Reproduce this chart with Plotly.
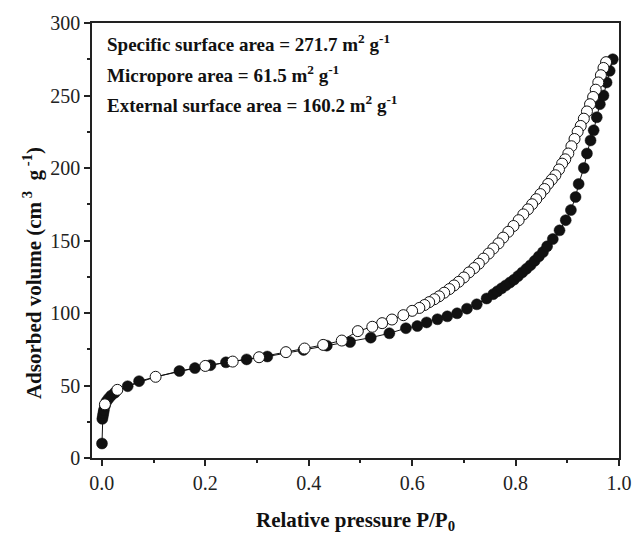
import plotly.graph_objects as go

# Adsorption branch (filled circles)
ads_p = [0.0003, 0.001, 0.002, 0.003, 0.004, 0.006, 0.009, 0.013, 0.018, 0.025,
         0.05, 0.072, 0.15, 0.18, 0.21, 0.24, 0.28, 0.32, 0.39, 0.435, 0.48, 0.52,
         0.556, 0.588, 0.61, 0.628, 0.649, 0.668, 0.687, 0.706, 0.725, 0.744,
         0.757, 0.765, 0.773, 0.781, 0.789, 0.797, 0.805, 0.813, 0.821, 0.829,
         0.837, 0.845, 0.853, 0.861, 0.872, 0.885, 0.897, 0.907, 0.916, 0.922,
         0.932, 0.938, 0.945, 0.951, 0.957, 0.963, 0.970, 0.976, 0.982, 0.988]
ads_v = [10, 27, 29, 31, 33, 36, 39, 41, 43, 45,
         49.5, 53, 60, 62, 64, 66, 68, 70, 74.5, 77.5, 80, 83,
         86, 89.5, 91, 93.5, 95.7, 97.7, 99.8, 103, 106, 110,
         113, 115, 117, 119, 121, 123, 125.5, 128, 130.5, 133,
         136, 139, 142, 146, 151, 157, 164, 171, 180, 189,
         200, 210, 219, 226, 235, 244, 250, 259, 267, 275]

# Desorption branch (open circles)
des_p = [0.975, 0.970, 0.965, 0.960, 0.955, 0.950, 0.944, 0.938, 0.932, 0.926,
         0.920, 0.914, 0.908, 0.902, 0.896, 0.890, 0.884, 0.877, 0.870, 0.863,
         0.856, 0.848, 0.840, 0.832, 0.824, 0.815, 0.806, 0.796, 0.786, 0.776,
         0.767, 0.757, 0.748, 0.738, 0.729, 0.720, 0.710, 0.700, 0.690, 0.681,
         0.672, 0.662, 0.652, 0.643, 0.633, 0.624, 0.614, 0.600, 0.583, 0.561,
         0.542, 0.523, 0.495, 0.464, 0.428, 0.392, 0.356, 0.304, 0.253, 0.200,
         0.104, 0.030, 0.006]
des_v = [273, 269, 264, 259, 254, 249, 244, 239, 234, 229,
         225, 220, 215, 210, 206, 203, 199, 195, 192, 189,
         185.5, 182, 178.5, 175, 171.5, 168, 164, 160, 156, 152,
         148, 144.5, 141, 137.5, 134, 131, 128, 124.5, 121.5, 119,
         116.5, 114, 111.5, 109.5, 107.5, 105.5, 103.5, 101.5, 98.5, 95.5,
         93, 90.5, 87.5, 81, 78, 75.5, 73, 69.5, 66.5, 63.5,
         56, 47, 37]

x_ticks = [0.0, 0.2, 0.4, 0.6, 0.8, 1.0]
y_ticks = [0, 50, 100, 150, 200, 250, 300]

notes = [
    "Specific surface area = 271.7 m<sup>2</sup> g<sup>-1</sup>",
    "Micropore area = 61.5 m<sup>2</sup> g<sup>-1</sup>",
    "External surface area = 160.2 m<sup>2</sup> g<sup>-1</sup>",
]
note_y = [286, 265, 244]

x_title = "<b>Relative pressure P/P<sub>0</sub></b>"
y_title = "<b>Adsorbed volume (cm<sup> 3</sup>  g<sup> -1</sup>)</b>"

FONT = "Liberation Serif, Times New Roman, serif"

fig = go.Figure()
fig.add_trace(go.Scatter(
    x=ads_p, y=ads_v, mode="lines+markers",
    line=dict(color="#111111", width=1),
    marker=dict(symbol="circle", size=11, color="#111111",
                line=dict(color="#111111", width=0.5)),
    showlegend=False, cliponaxis=False))
fig.add_trace(go.Scatter(
    x=des_p, y=des_v, mode="lines+markers",
    line=dict(color="#111111", width=1),
    marker=dict(symbol="circle", size=11, color="white",
                line=dict(color="#111111", width=1)),
    showlegend=False, cliponaxis=False))

for t, yv in zip(notes, note_y):
    fig.add_annotation(
        x=0.006, xref="x", xanchor="left",
        y=yv, yref="y", yanchor="middle",
        text="<b>" + t + "</b>", showarrow=False,
        font=dict(family=FONT, size=19, color="#111111"))

fig.add_annotation(
    x=0.5, xref="paper", xanchor="center",
    y=-0.145, yref="paper", yanchor="middle",
    text=x_title, showarrow=False,
    font=dict(family=FONT, size=21, color="#111111"))
fig.add_annotation(
    x=-0.114, xref="paper", xanchor="center",
    y=0.425, yref="paper", yanchor="middle", textangle=-90,
    text=y_title, showarrow=False,
    font=dict(family=FONT, size=21, color="#111111"))

axis_common = dict(
    showline=True, linecolor="#222222", linewidth=1.5, mirror=True,
    ticks="outside", tickcolor="#222222", tickwidth=1.5, ticklen=6,
    showgrid=False, zeroline=False,
    tickfont=dict(family=FONT, size=20, color="#222222"),
)

fig.update_layout(
    width=644, height=535,
    margin=dict(l=92, r=16, t=22, b=77),
    paper_bgcolor="white", plot_bgcolor="white",
    xaxis=dict(
        range=[-0.019, 1.0], tickvals=x_ticks,
        ticktext=[f"{v:.1f}" for v in x_ticks],
        minor=dict(dtick=0.1, tick0=0, ticks="outside", ticklen=3,
                   tickcolor="#222222", tickwidth=1.5),
        **axis_common),
    yaxis=dict(
        range=[0, 300], tickvals=y_ticks,
        minor=dict(dtick=25, tick0=0, ticks="outside", ticklen=3,
                   tickcolor="#222222", tickwidth=1.5),
        **axis_common),
)

fig.write_html("out.html")
